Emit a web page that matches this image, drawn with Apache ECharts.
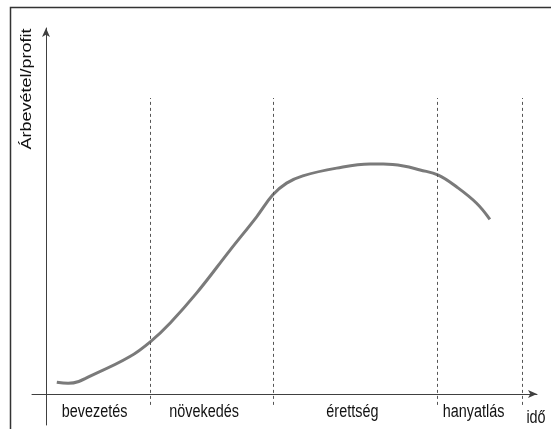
<!DOCTYPE html>
<html>
<head>
<meta charset="utf-8">
<script src="https://cdn.jsdelivr.net/npm/echarts@6/dist/echarts.min.js"></script>
<style>
html,body{margin:0;padding:0;background:#fff;}
#c{width:551px;height:429px;}
</style>
</head>
<body>
<div id="c"></div>
<script>
// Curve (time, revenue/profit)
var curveX = [2.2, 4.5, 10.3, 17.1, 21.3, 25.3, 30.7, 37.5, 42.9, 46.2, 49.0, 52.3, 59.2, 66.0, 68.7, 72.8, 76.2, 79.9, 83.6, 87.7, 90.4];
var curveY = [3.2, 2.9, 5.7, 10.2, 14.3, 19.4, 27.6, 39.3, 48.4, 54.4, 57.6, 59.6, 61.7, 62.8, 62.8, 62.3, 61.2, 59.8, 56.6, 52.1, 47.7];
// Stage boundaries (dashed lines) and stage names
var boundaries = [21.3, 46.2, 79.6, 96.9];
var stageNames = ['bevezetés', 'növekedés', 'érettség', 'hanyatlás'];
var stageCenters = [9.9, 32.2, 62.4, 87.1];
var xAxisTitle = 'idő';
var yAxisTitle = 'Árbevétel/profit';

var FONT = '"Liberation Sans", Arial, sans-serif';
var chart = echarts.init(document.getElementById('c'));

var curveData = curveX.map(function (x, i) { return [x, curveY[i]]; });
var markLines = boundaries.map(function (b) {
  return [{ coord: [b, -3.0] }, { coord: [b, 80.9] }];
});

chart.setOption({
  animation: false,
  backgroundColor: '#ffffff',
  grid: { left: 32, right: 14, top: 28, bottom: 4, containLabel: false },
  xAxis: {
    type: 'value', min: -2.85, max: 100,
    axisLine: { onZero: true, lineStyle: { color: '#404040', width: 1 }, symbol: ['none', 'arrow'], symbolSize: [6, 9] },
    axisTick: { show: false }, axisLabel: { show: false }, splitLine: { show: false }
  },
  yAxis: {
    type: 'value', min: -8.5, max: 100,
    axisLine: { show: true, onZero: true, lineStyle: { color: '#404040', width: 1 }, symbol: ['none', 'arrow'], symbolSize: [6, 9] },
    axisTick: { show: false }, axisLabel: { show: false }, splitLine: { show: false }
  },
  series: [
    {
      type: 'line', data: curveData, smooth: 0.4, showSymbol: false, symbol: 'none',
      lineStyle: { color: '#7a7a7a', width: 3 }, clip: false,
      markLine: {
        silent: true, symbol: ['none', 'none'], label: { show: false },
        lineStyle: { color: '#555555', width: 1, type: [3, 3] },
        data: markLines
      }
    }
  ]
});

// Text labels placed through the chart's own scales
var graphics = [
  { type: 'rect', shape: { x: 10.5, y: 7.5, width: 700, height: 600 }, style: { fill: 'none', stroke: '#333333', lineWidth: 1.5 }, silent: true }
];
stageNames.forEach(function (n, i) {
  var p = chart.convertToPixel({ gridIndex: 0 }, [stageCenters[i], 0]);
  graphics.push({
    type: 'text', x: p[0], y: 412, scaleX: 0.8, silent: true,
    style: { text: n, fill: '#111111', font: '18px ' + FONT, align: 'center', verticalAlign: 'middle' }
  });
});
var pe = chart.convertToPixel({ gridIndex: 0 }, [100, 0]);
graphics.push({
  type: 'text', x: pe[0] - 1, y: 418, scaleX: 0.8, silent: true,
  style: { text: xAxisTitle, fill: '#111111', font: '18px ' + FONT, align: 'center', verticalAlign: 'middle' }
});
graphics.push({
  type: 'text', x: 27, y: 89, rotation: Math.PI / 2, scaleY: 0.78, silent: true,
  style: { text: yAxisTitle, fill: '#111111', font: '18px ' + FONT, align: 'center', verticalAlign: 'middle' }
});
chart.setOption({ graphic: graphics });
</script>
</body>
</html>
